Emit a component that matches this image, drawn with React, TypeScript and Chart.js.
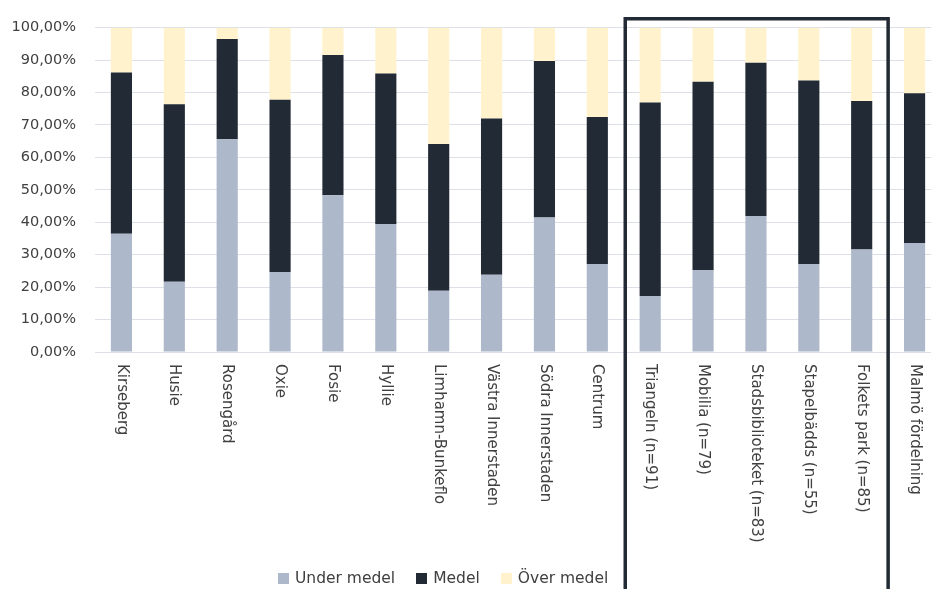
import React, { useEffect, useRef } from "react";
import { Chart, registerables } from "chart.js";

Chart.register(...registerables);

const categories = [
  "Kirseberg",
  "Husie",
  "Rosengård",
  "Oxie",
  "Fosie",
  "Hyllie",
  "Limhamn-Bunkeflo",
  "Västra Innerstaden",
  "Södra Innerstaden",
  "Centrum",
  "Triangeln (n=91)",
  "Mobilia (n=79)",
  "Stadsbiblioteket (n=83)",
  "Stapelbädds (n=55)",
  "Folkets park (n=85)",
  "Malmö fördelning",
];

const underMedel = [36.5, 21.7, 65.6, 24.7, 48.3, 39.5, 18.9, 23.8, 41.5, 27.1, 17.3, 25.3, 41.9, 27.1, 31.6, 33.6];
const medel = [49.7, 54.7, 30.9, 53.1, 43.3, 46.4, 45.2, 48.2, 48.2, 45.4, 59.6, 58.0, 47.3, 56.6, 45.8, 46.2];
const overMedel = [13.8, 23.6, 3.5, 22.2, 8.4, 14.1, 35.9, 28.0, 10.3, 27.5, 23.1, 16.7, 10.8, 16.3, 22.6, 20.2];

const seriesNames = ["Under medel", "Medel", "Över medel"];
const seriesColors = ["#adb9ca", "#222a35", "#fff2cc"];

const yMin = 0;
const yMax = 100;
const yStep = 10;

// first and last category index of the framed group
const framedGroup = [10, 14];

const TEXT_COLOR = "#404040";
const FONT_FAMILY = "'DejaVu Sans', sans-serif";

const CANVAS_W = 950;
const CANVAS_H = 589;

const formatPct = (v: number) => v.toFixed(2).replace(".", ",") + "%";

const customDraw = {
  id: "customDraw",
  afterDraw(chart: any) {
    const ctx = chart.ctx;
    const xScale = chart.scales.x;
    const area = chart.chartArea;

    // rotated category labels (reading top to bottom)
    ctx.save();
    ctx.fillStyle = TEXT_COLOR;
    ctx.font = `15px ${FONT_FAMILY}`;
    ctx.textAlign = "left";
    ctx.textBaseline = "middle";
    categories.forEach((label, i) => {
      const x = xScale.getPixelForValue(i);
      ctx.save();
      ctx.translate(x, area.bottom + 12);
      ctx.rotate(Math.PI / 2);
      ctx.fillText(label, 0, 0);
      ctx.restore();
    });
    ctx.restore();

    // frame around the highlighted group
    const [a, b] = framedGroup;
    const x1 = (xScale.getPixelForValue(a - 1) + xScale.getPixelForValue(a)) / 2 + 1.5;
    const x2 = (xScale.getPixelForValue(b) + xScale.getPixelForValue(b + 1)) / 2;
    const top = area.top - 9;
    ctx.save();
    ctx.strokeStyle = "#222a35";
    ctx.lineWidth = 3.5;
    ctx.lineJoin = "miter";
    ctx.beginPath();
    ctx.moveTo(x1, CANVAS_H + 10);
    ctx.lineTo(x1, top);
    ctx.lineTo(x2, top);
    ctx.lineTo(x2, CANVAS_H + 10);
    ctx.stroke();
    ctx.restore();
  },
};

export default function App() {
  const canvasRef = useRef<HTMLCanvasElement | null>(null);

  useEffect(() => {
    if (!canvasRef.current) return;
    const chart = new Chart(canvasRef.current, {
      type: "bar",
      data: {
        labels: categories,
        datasets: [
          { label: seriesNames[0], data: underMedel, backgroundColor: seriesColors[0] },
          { label: seriesNames[1], data: medel, backgroundColor: seriesColors[1] },
          { label: seriesNames[2], data: overMedel, backgroundColor: seriesColors[2] },
        ],
      },
      options: {
        responsive: false,
        animation: false,
        devicePixelRatio: 1,
        layout: { padding: { top: 26, left: 0, right: 9, bottom: 0 } },
        datasets: {
          bar: { barPercentage: 0.4, categoryPercentage: 1.0 },
        },
        plugins: {
          legend: { display: false },
          tooltip: { enabled: false },
        },
        scales: {
          x: {
            stacked: true,
            grid: { display: false },
            border: { display: false },
            ticks: { display: false },
            afterFit: (scale: any) => {
              scale.height = 237;
            },
          },
          y: {
            stacked: true,
            min: yMin,
            max: yMax,
            border: { display: false },
            grid: { color: "#dde1e7", lineWidth: 1, drawTicks: false },
            ticks: {
              stepSize: yStep,
              padding: 19,
              color: TEXT_COLOR,
              font: { family: FONT_FAMILY, size: 14.5 },
              callback: (v: any) => formatPct(Number(v)),
            },
            afterFit: (scale: any) => {
              scale.width = 95;
            },
          },
        },
      },
      plugins: [customDraw],
    });
    return () => chart.destroy();
  }, []);

  const legendItem = (i: number) => (
    <div key={i} style={{ display: "flex", alignItems: "center", marginRight: i < 2 ? 21 : 0 }}>
      <span
        style={{
          display: "inline-block",
          width: 11,
          height: 11,
          background: seriesColors[i],
          marginRight: 6,
        }}
      />
      <span>{seriesNames[i]}</span>
    </div>
  );

  return (
    <div
      style={{
        position: "fixed",
        left: 0,
        top: 0,
        width: 931,
        height: 589,
        overflow: "hidden",
        background: "#ffffff",
      }}
    >
      <canvas
        ref={canvasRef}
        width={CANVAS_W}
        height={CANVAS_H}
        style={{ position: "absolute", left: 0, top: 0, width: CANVAS_W, height: CANVAS_H }}
      />
      <div
        style={{
          position: "absolute",
          left: 278,
          top: 568,
          height: 21,
          display: "flex",
          alignItems: "center",
          fontFamily: FONT_FAMILY,
          fontSize: 15.5,
          lineHeight: "21px",
          color: TEXT_COLOR,
          whiteSpace: "nowrap",
        }}
      >
        {[0, 1, 2].map(legendItem)}
      </div>
    </div>
  );
}
